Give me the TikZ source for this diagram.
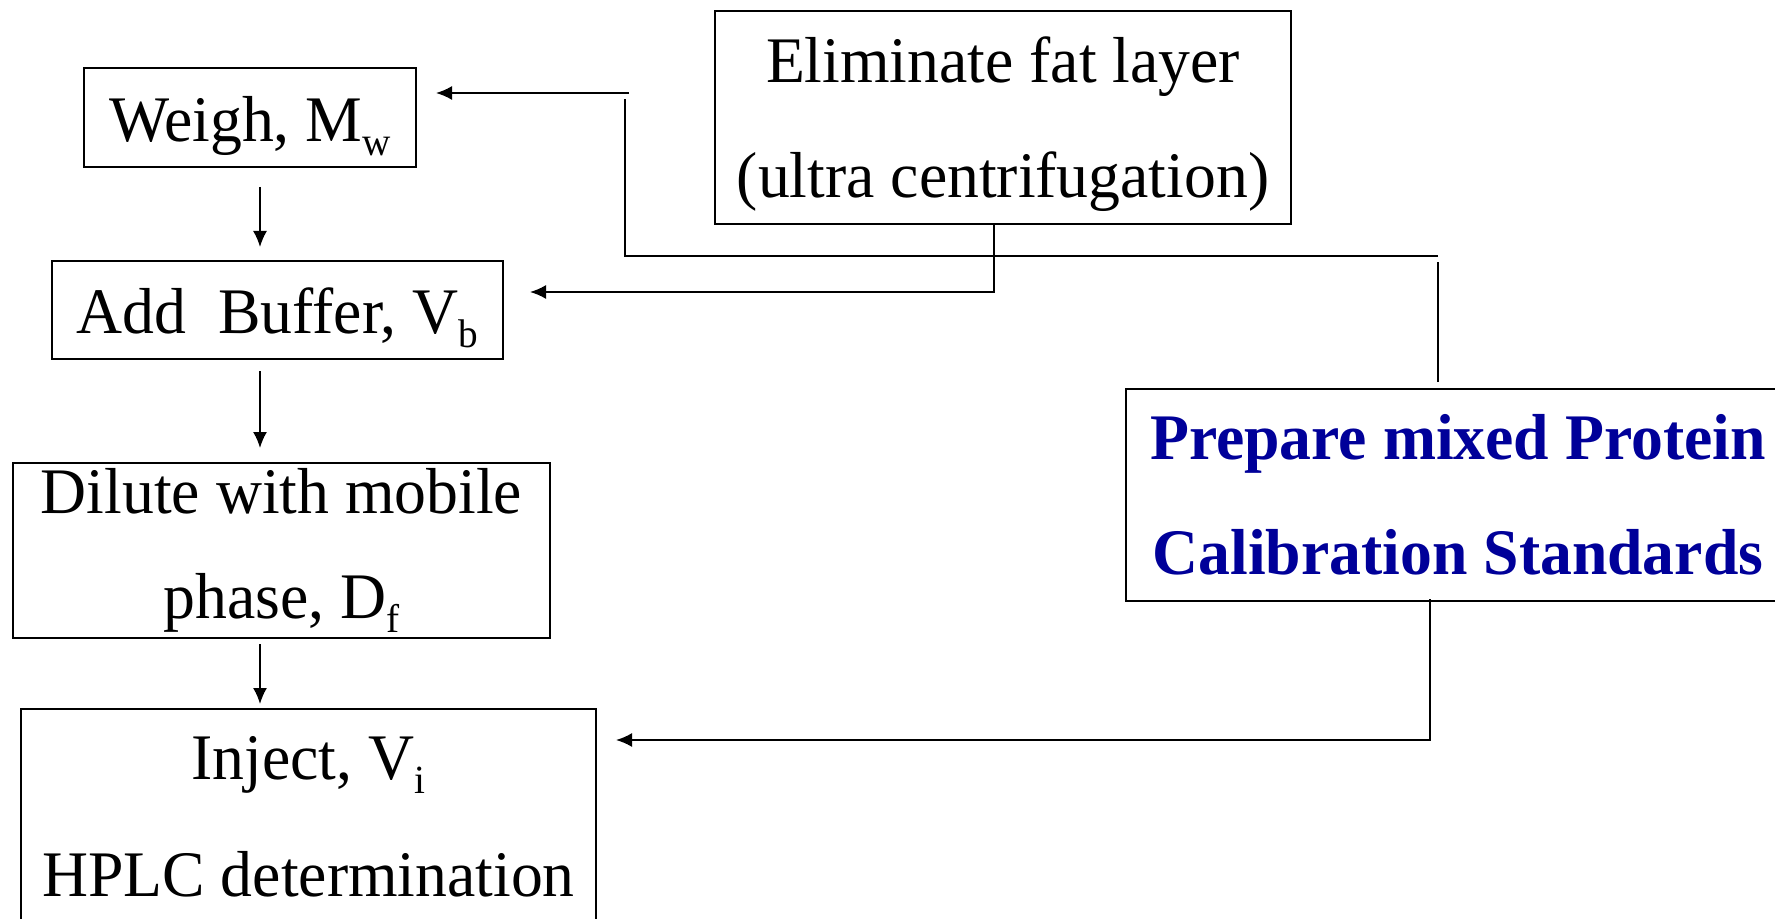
\documentclass[tikz,border=0pt]{standalone}
\usepackage{fontspec}
\setmainfont{Liberation Serif}[FakeStretch=0.98]
\usetikzlibrary{arrows.meta}
\definecolor{protblue}{RGB}{0,0,153}
\newcommand\lowsub[1]{\raisebox{-7pt}{\fontsize{20}{20}\selectfont #1}}

\tikzset{
  stepbox/.style={draw, line width=1pt, inner sep=0pt, align=center,
    font=\fontsize{32.5}{#1}\selectfont},
  stepbox/.default=55.5pt,
  oneline/.style={text height=24pt, text depth=0pt},
  flow/.style={line width=0.9pt},
}

\begin{document}
\begin{tikzpicture}[x=0.5pt,y=-0.5pt,>={Latex[length=8pt,width=7pt]}]
\useasboundingbox (0,0) rectangle (1775,919);
\clip (0,0) rectangle (1775,919);
% sample steps
\node[stepbox, oneline, minimum width=166pt, minimum height=49.5pt] (weigh) at (250,117.5) {Weigh, M\lowsub{w}};
\node[stepbox, oneline, minimum width=225.5pt, minimum height=49pt] (buffer) at (277.5,310) {Add\ \ Buffer, V\lowsub{b}};
\node[stepbox=52.5pt, minimum width=268.5pt, minimum height=87.5pt] (dilute) at (281.5,550.5) {Dilute with mobile\\phase, D\lowsub{f}};
\node[stepbox=58.5pt, minimum width=287.5pt, minimum height=108pt] (inject) at (308.5,817) {Inject, V\lowsub{i}\\HPLC determination};
\node[stepbox=57.5pt, text depth=0pt, minimum width=288pt, minimum height=106.5pt] (elim) at (1003,117.5) {Eliminate fat layer\\(ultra centrifugation)};
\node[stepbox=57.5pt, minimum width=332pt, minimum height=106pt, text=protblue] (prep) at (1458,495) {\bfseries Prepare mixed Protein\\\bfseries Calibration Standards};
\coordinate (spine) at (260,0);
% main line
\draw[flow,->] ([yshift=-9.5pt]spine |- weigh.south) -- ([yshift=6.5pt]spine |- buffer.north);
\draw[flow,->] ([yshift=-5.5pt]spine |- buffer.south) -- ([yshift=7pt]spine |- dilute.north);
\draw[flow,->] ([yshift=-2.5pt]spine |- dilute.south) -- ([yshift=2pt]spine |- inject.north);
% side feeds
\draw[flow,->] ([xshift=-4.5pt]elim.south) |- ([xshift=13pt,yshift=9pt]buffer.east);
\draw[flow] ([xshift=-10pt,yshift=3pt]prep.north) -- ++(0,-120);
\draw[flow] ([xshift=-10pt,yshift=66pt]prep.north) -| ([xshift=104pt,yshift=9.25pt]weigh.east);
\draw[flow,->] ([xshift=106pt,yshift=12.25pt]weigh.east) -- ([xshift=9.5pt,yshift=12.25pt]weigh.east);
\draw[flow,->] ([xshift=-14pt,yshift=1.5pt]prep.south) |- ([xshift=9.5pt,yshift=-16pt]inject.north east);
\end{tikzpicture}
\end{document}
